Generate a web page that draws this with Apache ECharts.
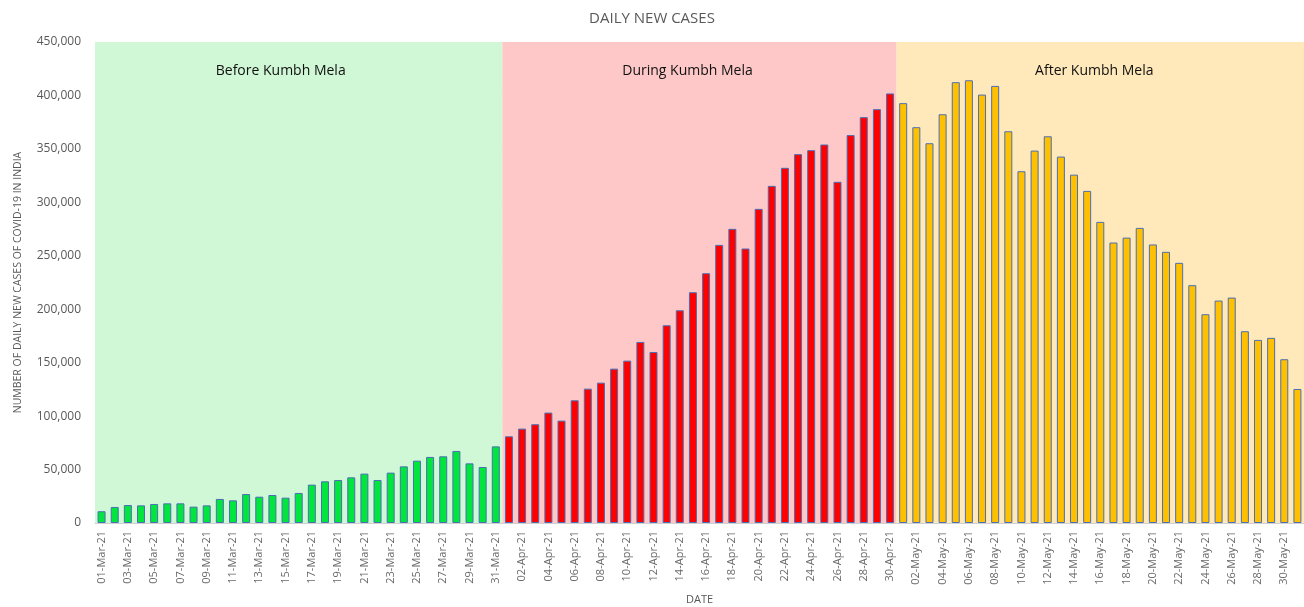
<!DOCTYPE html>
<html lang="en">
<head>
    <meta charset="UTF-8">
    <title>Daily New Cases</title>
    <script src="https://cdn.jsdelivr.net/npm/echarts@6/dist/echarts.min.js"></script>
    <style>
        *{
            padding:0;
            margin:0;
        }
        html,body{
            height:100%;
            background:#fff;
        }
        #main{
            width:1304px;
            height:607px;
        }
    </style>
</head>
<body>
<div id="main"></div>
<script>
    // daily new cases
    var marchCases = [11000, 15000, 16800, 16500, 17800, 18400, 18400, 15300, 16500, 22500,
        21200, 27100, 24600, 26200, 23700, 28100, 35900, 39000, 40200, 42700,
        46200, 40200, 47100, 53000, 58300, 61800, 62400, 67400, 55800, 52400, 71700];
    var aprilCases = [81100, 88300, 92400, 103300, 95800, 114800, 125700, 131300, 144400, 151900,
        169400, 160000, 185000, 199000, 215900, 233700, 260200, 275200, 256800, 293900,
        315400, 332300, 345100, 348800, 354100, 319200, 362900, 379700, 387200, 401900];
    var mayCases = [392800, 370300, 355300, 382400, 412400, 414200, 400800, 408900, 366500, 329100,
        348400, 361800, 342800, 325900, 310700, 281700, 262400, 267000, 276100, 260600,
        253700, 243400, 222500, 195300, 208100, 210900, 179400, 171300, 173200, 153200, 125400];
    var periods = ['Before Kumbh Mela', 'During Kumbh Mela', 'After Kumbh Mela'];

    function pad(n){ return n < 10 ? '0' + n : '' + n; }
    var dates = [];
    marchCases.forEach(function (v, i) { dates.push(pad(i + 1) + '-Mar-21'); });
    aprilCases.forEach(function (v, i) { dates.push(pad(i + 1) + '-Apr-21'); });
    mayCases.forEach(function (v, i) { dates.push(pad(i + 1) + '-May-21'); });
    var cases = marchCases.concat(aprilCases, mayCases);

    var nMar = marchCases.length, nApr = aprilCases.length, nAll = cases.length;
    var barColors = ['#00e63c', '#ff0000', '#ffc000'];
    function periodOf(i){ return i < nMar ? 0 : (i < nMar + nApr ? 1 : 2); }

    var areaLabel = {
        show: true,
        position: 'insideTop',
        distance: 22,
        color: '#111',
        fontSize: 14,
        fontFamily: 'Open Sans'
    };

    var myChart = echarts.init(document.getElementById('main'));
    var option = {
        animation: false,
        textStyle: { fontFamily: 'Open Sans' },
        title: {
            text: 'DAILY NEW CASES',
            left: 'center',
            top: 6,
            textStyle: { color: '#595959', fontSize: 15, fontWeight: 'normal', fontFamily: 'Open Sans' }
        },
        grid: { left: 95, right: 0, top: 42, bottom: 84, outerBoundsMode: 'none', containLabel: false },
        xAxis: [{
            type: 'category',
            data: dates,
            name: 'DATE',
            nameLocation: 'middle',
            nameGap: 71,
            nameTextStyle: { color: '#595959', fontSize: 11 },
            axisLine: { lineStyle: { color: '#d0d0d0' } },
            axisTick: { interval: 1, lineStyle: { color: '#d0d0d0' } },
            axisLabel: { interval: 1, rotate: 90, color: '#6a6a6a', fontSize: 11, margin: 8 }
        }, {
            type: 'value',
            min: 0,
            max: nAll,
            show: false
        }],
        yAxis: {
            type: 'value',
            min: 0,
            max: 450000,
            interval: 50000,
            name: 'NUMBER OF DAILY NEW CASES OF COVID-19 IN INDIA',
            nameLocation: 'middle',
            nameGap: 71,
            nameTextStyle: { color: '#595959', fontSize: 10.5 },
            axisLine: { show: false },
            axisTick: { show: false },
            axisLabel: {
                color: '#595959',
                fontSize: 12,
                margin: 14,
                formatter: function (v) { return v.toLocaleString('en-US'); }
            },
            splitLine: { lineStyle: { color: 'rgba(120,120,120,0.22)' } }
        },
        series: [{
            type: 'line',
            xAxisIndex: 1,
            data: [],
            silent: true,
            markArea: {
                silent: true,
                data: [
                    [{ xAxis: 0, itemStyle: { color: '#d1f8d6' }, label: Object.assign({}, areaLabel, { offset: [-18, 0] }), name: periods[0] }, { xAxis: nMar }],
                    [{ xAxis: nMar, itemStyle: { color: '#ffc8c8' }, label: Object.assign({}, areaLabel, { offset: [-12, 0] }), name: periods[1] }, { xAxis: nMar + nApr }],
                    [{ xAxis: nMar + nApr, itemStyle: { color: '#ffe9ba' }, label: Object.assign({}, areaLabel, { offset: [-6, 0] }), name: periods[2] }, { xAxis: nAll }]
                ]
            }
        }, {
            type: 'bar',
            name: 'Daily new cases',
            data: cases,
            barWidth: 8,
            z: 3,
            itemStyle: {
                borderColor: '#4a6fb5',
                borderWidth: 1,
                color: function (p) { return barColors[periodOf(p.dataIndex)]; }
            }
        }]
    };
    myChart.setOption(option);
</script>
</body>
</html>
